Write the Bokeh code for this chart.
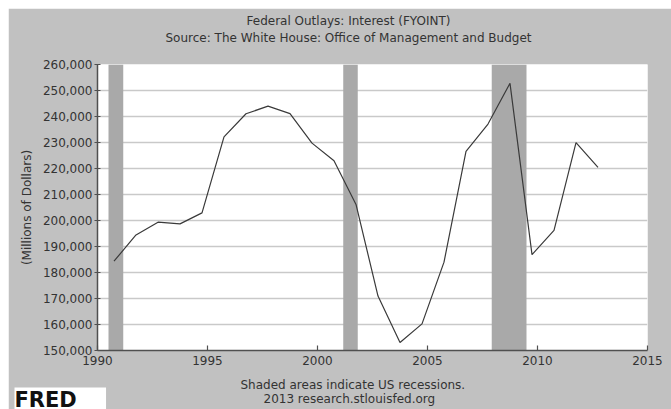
from bokeh.plotting import figure
from bokeh.models import (BoxAnnotation, Title, Label, FixedTicker, NumeralTickFormatter,
                          BasicTickFormatter, Range1d)
from bokeh.embed import file_html
from bokeh.resources import INLINE

# Fiscal-year net interest outlays (millions of dollars), dated at fiscal-year start
dates = [1990.75, 1991.75, 1992.75, 1993.75, 1994.75, 1995.75, 1996.75, 1997.75,
         1998.75, 1999.75, 2000.75, 2001.75, 2002.75, 2003.75, 2004.75, 2005.75,
         2006.75, 2007.75, 2008.75, 2009.75, 2010.75, 2011.75, 2012.75]
interest = [184347, 194448, 199344, 198713, 202932, 232134, 241053, 243984,
            241118, 229755, 222949, 206167, 170949, 153073, 160245, 183986,
            226603, 237109, 252757, 186902, 196194, 229968, 220408]

recession_starts = [1990.5, 2001.17, 2007.92]
recession_ends = [1991.17, 2001.83, 2009.5]

x_ticks = [1990, 1995, 2000, 2005, 2010, 2015]
y_ticks = [150000, 160000, 170000, 180000, 190000, 200000, 210000,
           220000, 230000, 240000, 250000, 260000]

title_1 = "Federal Outlays: Interest (FYOINT)"
title_2 = "Source: The White House: Office of Management and Budget"
note_1 = "Shaded areas indicate US recessions."
note_2 = "2013 research.stlouisfed.org"
y_label = "(Millions of Dollars)"
logo = "FRED"

FONT = "DejaVu Sans"
TXT = "#333333"
BG = "#c1c1c1"

p = figure(width=663, height=401, output_backend="svg", toolbar_location=None,
           x_range=Range1d(1990, 2015), y_range=Range1d(150000, 260000),
           min_border_left=89, min_border_right=24, min_border_top=56,
           min_border_bottom=59)
p.margin = (8, 0, 0, 8)
p.border_fill_color = BG
p.background_fill_color = "white"
p.outline_line_color = None

# grid
p.xgrid.grid_line_color = None
p.ygrid.grid_line_color = "#c9c9c9"
p.ygrid.grid_line_width = 1.5
p.ygrid.ticker = FixedTicker(ticks=y_ticks)

# recessions
for s, e in zip(recession_starts, recession_ends):
    p.add_layout(BoxAnnotation(left=s, right=e, fill_color="#a9a9a9",
                               fill_alpha=1.0, line_color=None, level="underlay"))

p.line(dates, interest, line_color="#3a3a3a", line_width=1.2)

# axes
p.xaxis.ticker = FixedTicker(ticks=x_ticks)
p.xaxis.formatter = BasicTickFormatter(use_scientific=False)
p.yaxis.ticker = FixedTicker(ticks=y_ticks)
p.yaxis.formatter = NumeralTickFormatter(format="0,0")
for ax in (p.xaxis[0], p.yaxis[0]):
    ax.axis_line_color = "#505050"
    ax.axis_line_width = 1.5
    ax.major_tick_line_color = "#505050"
    ax.major_tick_line_width = 1.2
    ax.minor_tick_line_color = None
    ax.major_label_text_font = FONT
    ax.major_label_text_font_size = "12px"
    ax.major_label_text_color = TXT
p.xaxis.major_tick_in = 5
p.xaxis.major_tick_out = 0
p.xaxis.major_label_standoff = 5
p.yaxis.major_tick_in = 3
p.yaxis.major_tick_out = 3
p.yaxis.major_label_standoff = 2
p.yaxis.axis_label = y_label
p.yaxis.axis_label_text_font = FONT
p.yaxis.axis_label_text_font_size = "12px"
p.yaxis.axis_label_text_font_style = "normal"
p.yaxis.axis_label_text_color = TXT
p.yaxis.axis_label_standoff = 6

# titles above the frame: labels in the top panel (x from frame left, y up from slot bottom)
for txt, y in ((title_2, 26.7), (title_1, 29.3)):
    p.add_layout(Label(x=251, y=y, x_units="screen", y_units="screen", text=txt,
                       text_font=FONT, text_font_size="12px", text_color=TXT,
                       text_align="center", text_baseline="middle"), "above")


def title(text, place, standoff, offset, valign="bottom", size="12px",
          style="normal", color=TXT, **kw):
    t = Title(text=text, align="left", offset=offset, standoff=standoff,
              vertical_align=valign, text_font=FONT, text_font_size=size,
              text_font_style=style, text_color=color, **kw)
    p.add_layout(t, place)
    return t


# below: after the x axis, stacked outward
title(note_1, "below", 16, 143, valign="bottom")
title(note_2, "below", -15, 166, valign="top")
title(logo + "\u00a0\u00a0\u00a0\u00a0", "below", -26, -83, valign="top", size="21px",
      style="bold", color="#111111", background_fill_color="white")

open("out.html", "w").write(file_html(p, INLINE))
